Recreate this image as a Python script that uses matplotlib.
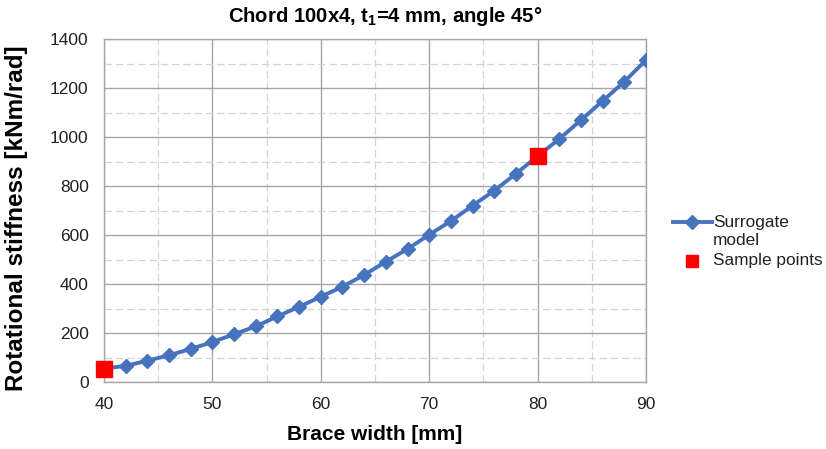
import numpy as np
import matplotlib.pyplot as plt
from matplotlib.lines import Line2D
from matplotlib.ticker import MultipleLocator

plt.rcParams['font.family'] = ['Liberation Sans', 'DejaVu Sans']

# brace width [mm] and surrogate stiffness [kNm/rad]
brace_width = [40, 42, 44, 46, 48, 50, 52, 54, 56, 58, 60, 62, 64,
               66, 68, 70, 72, 74, 76, 78, 80, 82, 84, 86, 88, 90]
surrogate = [55, 66, 87, 109, 135, 163, 195, 227, 268, 307, 348, 389, 437,
             491, 543, 601, 657, 720, 781, 850, 922, 992, 1069, 1147, 1226, 1314]

# sampled FE points
sample_width = [40, 80]
sample_stiff = [55, 922]

BLUE = '#4673BE'
RED = '#FF0000'
GRID = '#A6A6A6'
TXT = '#222222'

fig = plt.figure(figsize=(8.26, 4.49), dpi=100)
ax = fig.add_axes([104 / 826, 67 / 449, 542 / 826, 343 / 449])

ax.plot(brace_width, surrogate, '-', color=BLUE, lw=2.8, marker='D',
        ms=7.5, mfc=BLUE, mec=BLUE, zorder=3)
ax.plot(sample_width, sample_stiff, 's', color=RED, ms=12, ls='none',
        zorder=4, clip_on=False)

ax.set_xlim(40, 90)
ax.set_ylim(0, 1400)
ax.xaxis.set_major_locator(MultipleLocator(10))
ax.xaxis.set_minor_locator(MultipleLocator(5))
ax.yaxis.set_major_locator(MultipleLocator(200))
ax.yaxis.set_minor_locator(MultipleLocator(100))
ax.grid(which='major', color=GRID, lw=1.0, ls='-')
ax.grid(which='minor', color='#D4D4D4', lw=0.9, ls=(0, (6, 3)))
ax.set_axisbelow(True)
ax.tick_params(which='both', length=0, labelsize=12.5, pad=11, colors=TXT)
for s in ax.spines.values():
    s.set_color(GRID)
    s.set_linewidth(1.0)

ax.set_xlabel('Brace width [mm]', fontsize=15, fontweight='bold', labelpad=9)
fig.text(17 / 826, 1 - 218 / 449, 'Rotational stiffness [kNm/rad]',
         rotation=90, ha='center', va='center', fontsize=17.5,
         fontweight='bold')
fig.text(385 / 826, 1 - 17 / 449, 'Chord 100x4, t$_\\mathregular{1}$=4 mm, angle 45°',
         ha='center', va='center', fontsize=14.6, fontweight='bold')

# legend: the line handle sits on the first text line
ly1, ly2, ly3 = 1 - 222 / 449, 1 - 240 / 449, 1 - 261 / 449
fig.add_artist(Line2D([673 / 826, 712 / 826], [ly1, ly1], color=BLUE, lw=2.8,
                      transform=fig.transFigure))
fig.add_artist(Line2D([692 / 826], [ly1], color=BLUE, marker='D', ms=7.5,
                      transform=fig.transFigure))
fig.add_artist(Line2D([692 / 826], [ly3], color=RED, marker='s', ms=8.5,
                      ls='none', transform=fig.transFigure))
for y, s in [(ly1, 'Surrogate'), (ly2, 'model'), (ly3, 'Sample points')]:
    fig.text(713 / 826, y, s, ha='left', va='center', fontsize=12.4, color=TXT)

fig.savefig('out.png', dpi=100)
